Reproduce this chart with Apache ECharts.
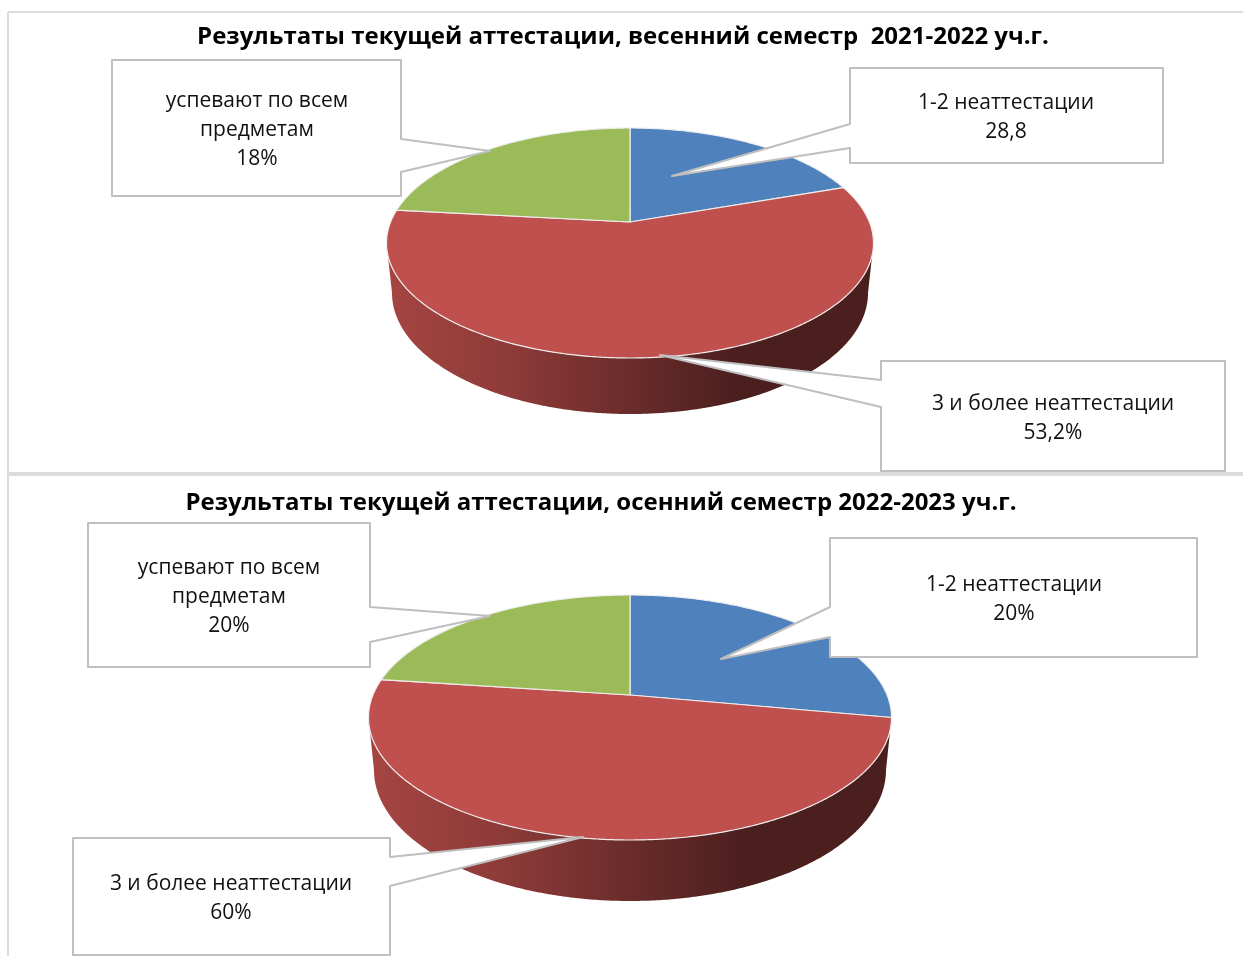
<!DOCTYPE html>
<html>
<head>
<meta charset="utf-8">
<title>Результаты текущей аттестации</title>
<script src="https://cdn.jsdelivr.net/npm/echarts@6/dist/echarts.min.js"></script>
<style>
html, body { margin: 0; padding: 0; background: #fff; }
#chart { width: 1243px; height: 956px; }
</style>
</head>
<body>
<div id="chart"></div>
<script>
// подписи и значения
var categories = ['1-2 неаттестации', '3 и более неаттестации', 'успевают по всем\nпредметам'];
var titleSpring = 'Результаты текущей аттестации, весенний семестр  2021-2022 уч.г.';
var titleAutumn = 'Результаты текущей аттестации, осенний семестр 2022-2023 уч.г.';
// доли секторов, как они нарисованы на картинке
var sharesSpring = [17, 62.6, 20.4];
var sharesAutumn = [25, 55, 20];
// подписи в выносках (не совпадают с секторами)
var labelsSpring = ['28,8', '53,2%', '18%'];
var labelsAutumn = ['20%', '60%', '20%'];
var colors = ['#4f81bd', '#c0504d', '#9bbb59'];

var fontName = '"Open Sans", "Noto Sans", sans-serif';

// геометрия "объемных" кругов
var pieSpring = { cx: 630, cy: 243, rx: 243.5, ry: 115, apexY: 222, bx: 238, by: 293, bry: 121 };
var pieAutumn = { cx: 630, cy: 717.5, rx: 261.5, ry: 122.5, apexY: 695, bx: 256, by: 770, bry: 131 };

// выноски: прямоугольник и клюв
var calloutsSpring = [
	{ x0: 850, y0: 68, x1: 1163, y1: 163, side: 'left', a: 124, b: 148, tip: [672, 176], tx: 1006, ty: 117.5 },
	{ x0: 881, y0: 361, x1: 1225, y1: 471, side: 'left', a: 380, b: 407, tip: [660, 355], tx: 1053, ty: 418.5 },
	{ x0: 112, y0: 60, x1: 401, y1: 196, side: 'right', a: 139, b: 172, tip: [490, 151], tx: 257, ty: 130 }
];
var calloutsAutumn = [
	{ x0: 830, y0: 538, x1: 1197, y1: 657, side: 'left', a: 607, b: 637, tip: [721, 659], tx: 1014, ty: 599.5 },
	{ x0: 73, y0: 838, x1: 390, y1: 955, side: 'right', a: 857, b: 886, tip: [583, 837], tx: 231, ty: 898.5 },
	{ x0: 88, y0: 523, x1: 370, y1: 667, side: 'right', a: 607, b: 642, tip: [490, 616], tx: 229, ty: 597 }
];

function arcPoints(cx, cy, rx, ry, t0, t1) {
	var pts = [];
	var n = Math.max(2, Math.ceil(Math.abs(t1 - t0) / 0.01));
	for (var i = 0; i <= n; i++) {
		var t = t0 + (t1 - t0) * i / n;
		pts.push([cx + rx * Math.sin(t), cy - ry * Math.cos(t)]);
	}
	return pts;
}

function shade(color, k) {
	var c = echarts.color.parse(color);
	return 'rgb(' + Math.round(c[0] * k) + ',' + Math.round(c[1] * k) + ',' + Math.round(c[2] * k) + ')';
}

function pieSeries(shares, pie) {
	var total = 0;
	for (var i = 0; i < shares.length; i++) { total += shares[i]; }
	return {
		type: 'custom',
		coordinateSystem: 'none',
		silent: true,
		animation: false,
		data: shares,
		renderItem: function (params, api) {
			var start = 0;
			for (var j = 0; j < params.dataIndex; j++) { start += shares[j]; }
			var t0 = start / total * Math.PI * 2;
			var t1 = (start + api.value(0)) / total * Math.PI * 2;
			var color = colors[params.dataIndex];
			var children = [];
			// боковая стенка только спереди
			var w0 = Math.max(t0, Math.PI / 2);
			var w1 = Math.min(t1, Math.PI * 1.5);
			if (w1 > w0) {
				var top = arcPoints(pie.cx, pie.cy, pie.rx, pie.ry, w0, w1);
				var bottom = arcPoints(pie.cx, pie.by, pie.bx, pie.bry, w1, w0);
				children.push({
					type: 'polygon',
					shape: { points: top.concat(bottom) },
					style: {
						fill: new echarts.graphic.LinearGradient(0, 0, 1, 0, [
							{ offset: 0, color: shade(color, 0.86) },
							{ offset: 0.25, color: shade(color, 0.74) },
							{ offset: 0.5, color: shade(color, 0.55) },
							{ offset: 0.72, color: shade(color, 0.39) },
							{ offset: 1, color: shade(color, 0.39) }
						])
					}
				});
			}
			var pts = [[pie.cx, pie.apexY]].concat(arcPoints(pie.cx, pie.cy, pie.rx, pie.ry, t0, t1));
			children.push({
				type: 'polygon',
				shape: { points: pts },
				style: { fill: color, stroke: '#eeeeee', lineWidth: 1.2, lineJoin: 'round' }
			});
			return { type: 'group', children: children };
		}
	};
}

function calloutElements(list, labels) {
	var out = [];
	for (var i = 0; i < list.length; i++) {
		var c = list[i];
		var pts;
		if (c.side == 'left') {
			pts = [[c.x0, c.y0], [c.x1, c.y0], [c.x1, c.y1], [c.x0, c.y1], [c.x0, c.b], c.tip, [c.x0, c.a]];
		} else {
			pts = [[c.x0, c.y0], [c.x1, c.y0], [c.x1, c.a], c.tip, [c.x1, c.b], [c.x1, c.y1], [c.x0, c.y1]];
		}
		out.push({
			type: 'polygon',
			z: 10,
			silent: true,
			shape: { points: pts },
			style: { fill: '#fff', stroke: '#bfbfbf', lineWidth: 2, lineJoin: 'round' }
		});
		out.push({
			type: 'text',
			z: 11,
			silent: true,
			x: c.tx,
			y: c.ty,
			style: {
				text: categories[i] + '\n' + labels[i],
				fill: '#111',
				font: '21px ' + fontName,
				lineHeight: 29,
				align: 'center',
				verticalAlign: 'middle'
			}
		});
	}
	return out;
}

var frame = [
	{ type: 'line', shape: { x1: 8, y1: 12, x2: 1243, y2: 12 }, style: { stroke: '#dcdcdc', lineWidth: 2 } },
	{ type: 'line', shape: { x1: 8, y1: 12, x2: 8, y2: 956 }, style: { stroke: '#dcdcdc', lineWidth: 2 } },
	{ type: 'line', shape: { x1: 8, y1: 474, x2: 1243, y2: 474 }, style: { stroke: '#dcdcdc', lineWidth: 4 } }
];

var myChart = echarts.init(document.getElementById('chart'));
var option = {
	animation: false,
	backgroundColor: '#fff',
	title: [
		{
			text: titleSpring, left: 618, top: 20, textAlign: 'center',
			textStyle: { fontFamily: fontName, fontSize: 24, fontWeight: 'bold', color: '#000' }
		},
		{
			text: titleAutumn, left: 596, top: 486, textAlign: 'center',
			textStyle: { fontFamily: fontName, fontSize: 24, fontWeight: 'bold', color: '#000' }
		}
	],
	series: [pieSeries(sharesSpring, pieSpring), pieSeries(sharesAutumn, pieAutumn)],
	graphic: frame
		.concat(calloutElements(calloutsSpring, labelsSpring))
		.concat(calloutElements(calloutsAutumn, labelsAutumn))
};
myChart.setOption(option);
</script>
</body>
</html>
